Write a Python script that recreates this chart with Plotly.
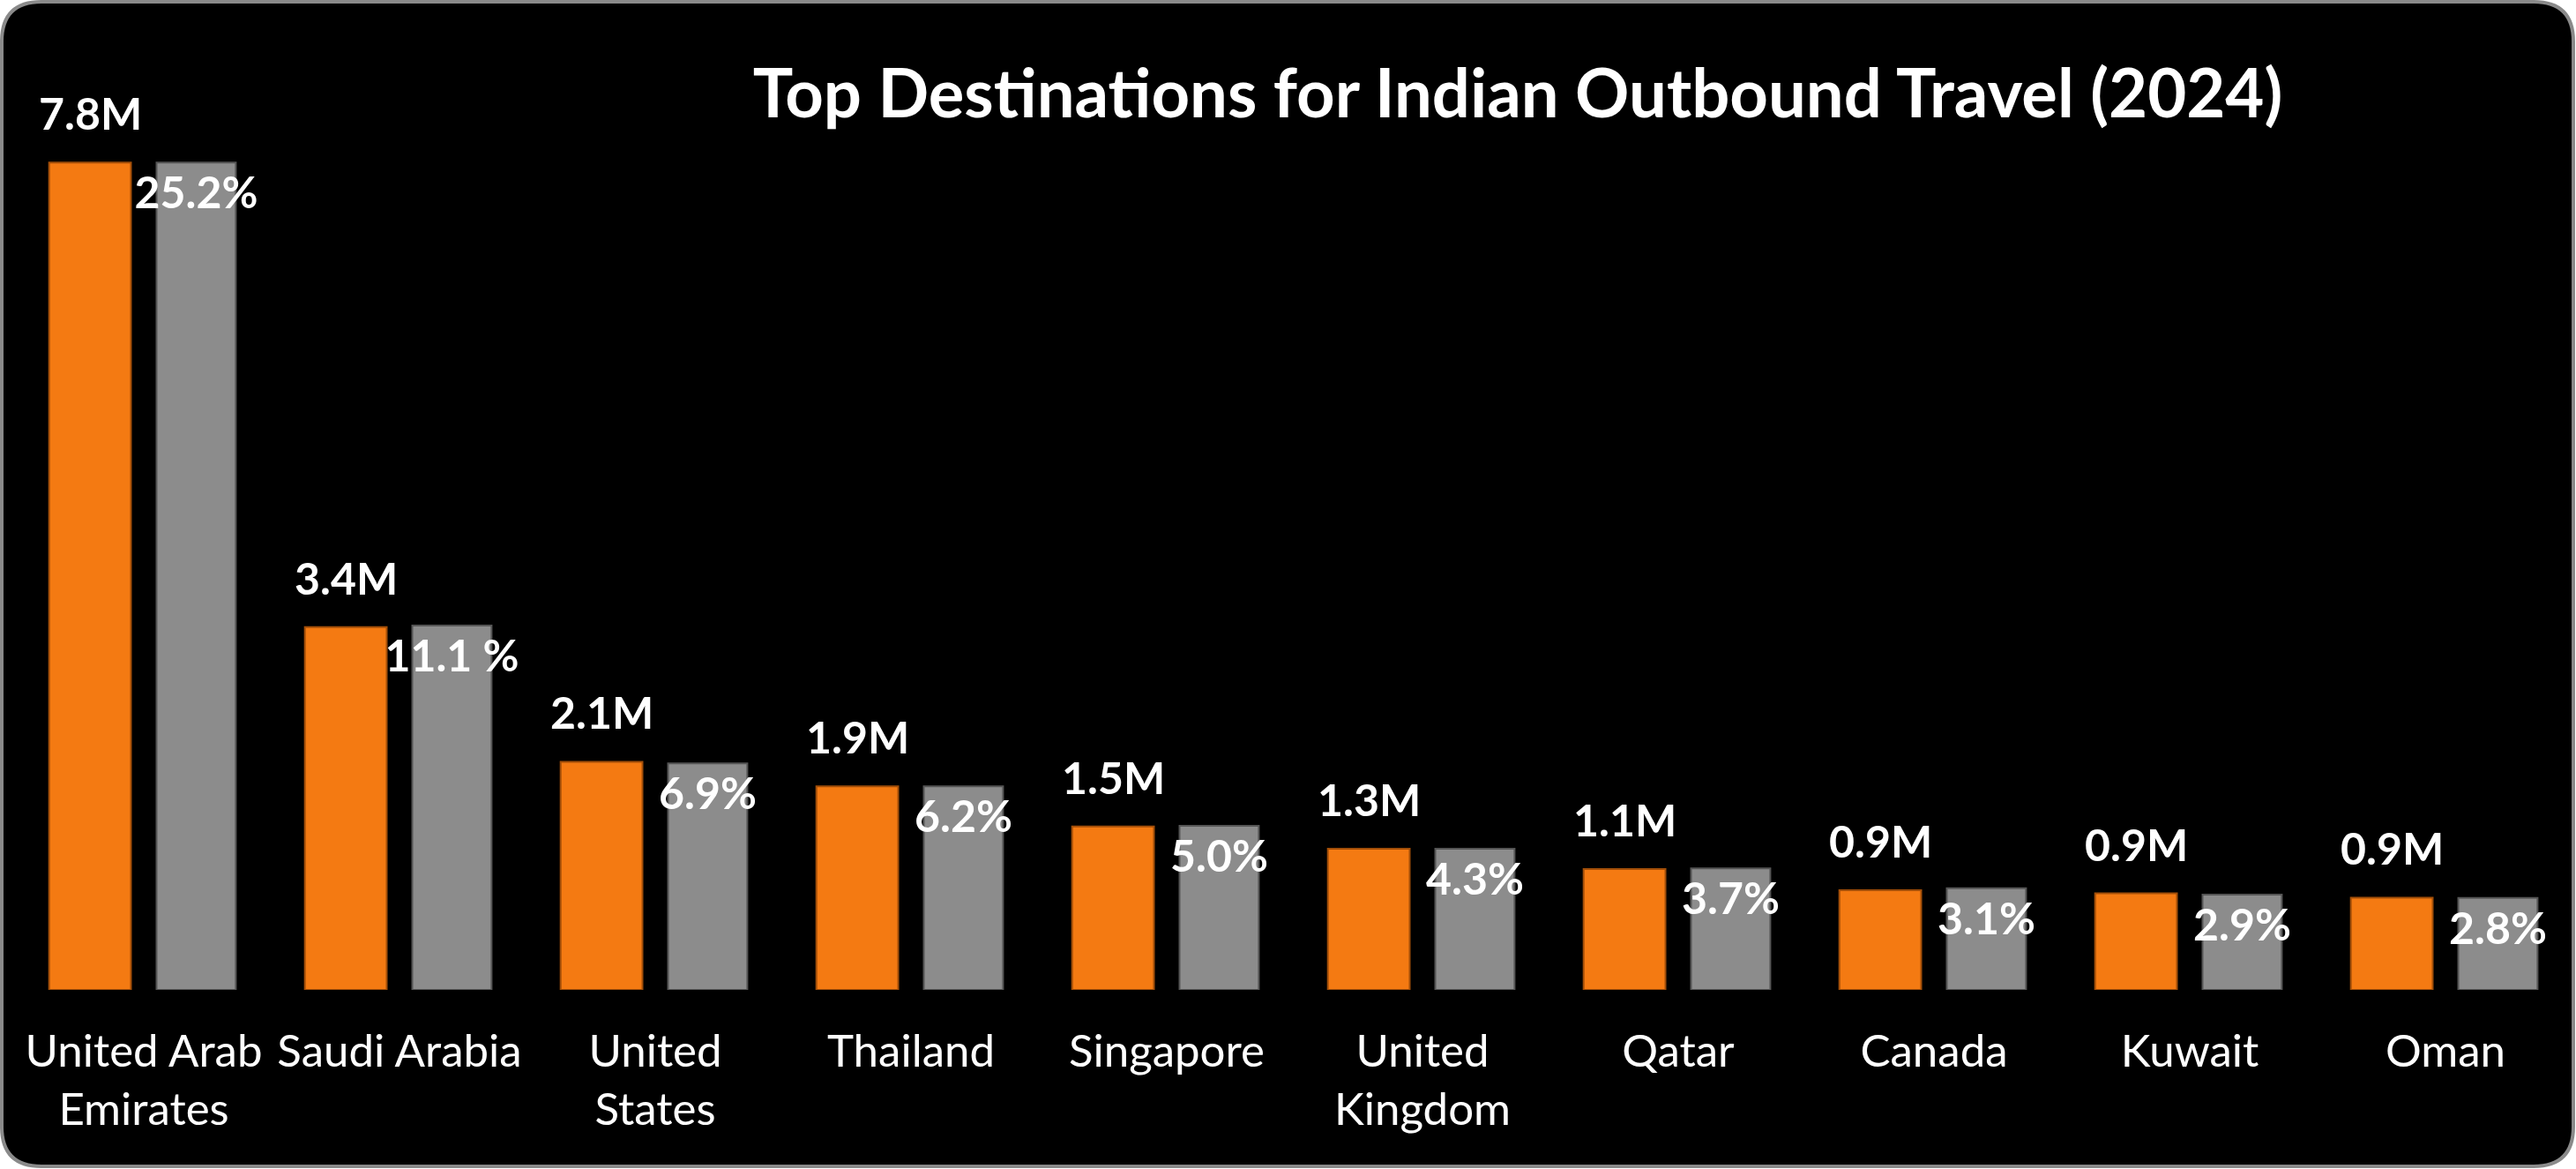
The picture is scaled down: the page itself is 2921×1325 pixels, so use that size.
import plotly.graph_objects as go

countries = ["United Arab<br>Emirates", "Saudi Arabia", "United<br>States", "Thailand", "Singapore",
             "United<br>Kingdom", "Qatar", "Canada", "Kuwait", "Oman"]
visitors_m = [7.8, 3.42, 2.15, 1.92, 1.54, 1.33, 1.14, 0.94, 0.91, 0.87]
share_pct = [25.2, 11.1, 6.9, 6.2, 5.0, 4.3, 3.7, 3.1, 2.9, 2.8]
share_labels = ["25.2%", "11.1 %", "6.9%", "6.2%", "5.0%", "4.3%", "3.7%", "3.1%", "2.9%", "2.8%"]

W, H = 2921, 1325
M_L, M_R, M_T, M_B = 18, 3, 100, 203
PLOT_W = W - M_L - M_R
PLOT_H = H - M_T - M_B
FONT = "Lato"

ORANGE_W, ORANGE_OFF = 0.32, -0.37
GREY_W, GREY_OFF = 0.31, 0.05

y_max = 8.5
y2_max = y_max * share_pct[0] / visitors_m[0]


def to_paper(px, py):
    return (px - M_L) / PLOT_W, (M_T + PLOT_H - py) / PLOT_H


def rounded_box(x0, y0, x1, y1, r):
    pts = [("M", [(x0 + r, y0)]), ("L", [(x1 - r, y0)]), ("Q", [(x1, y0), (x1, y0 + r)]),
           ("L", [(x1, y1 - r)]), ("Q", [(x1, y1), (x1 - r, y1)]), ("L", [(x0 + r, y1)]),
           ("Q", [(x0, y1), (x0, y1 - r)]), ("L", [(x0, y0 + r)]), ("Q", [(x0, y0), (x0 + r, y0)])]
    path = ""
    for cmd, coords in pts:
        path += cmd + " " + " ".join("%.5f,%.5f" % to_paper(x, y) for x, y in coords) + " "
    return path + "Z"


fig = go.Figure()

fig.add_trace(go.Bar(
    x=countries, y=visitors_m, name="Visitors",
    width=ORANGE_W, offset=ORANGE_OFF,
    marker=dict(color="#F47A12", line=dict(color="#A24E08", width=2)),
    cliponaxis=False,
))

fig.add_trace(go.Bar(
    x=countries, y=share_pct, name="Share", yaxis="y2",
    width=GREY_W, offset=GREY_OFF,
    marker=dict(color="#8C8C8C", line=dict(color="#555555", width=2)),
    text=share_labels, textposition="inside", insidetextanchor="end", textangle=0,
    constraintext="none",
    insidetextfont=dict(family=FONT, size=50, color="white", weight="bold"),
    cliponaxis=False,
))

# visitor labels sit a bit higher above the bars than plotly's outside text
slot_px = PLOT_W / len(countries)
for c, v in zip(countries, visitors_m):
    fig.add_annotation(x=c, y=v, xref="x", yref="y", text="<b>%.1fM</b>" % v,
                       showarrow=False, yanchor="bottom",
                       xshift=(ORANGE_OFF + ORANGE_W / 2) * slot_px, yshift=24,
                       font=dict(family=FONT, size=50, color="white"))

fig.update_layout(
    width=W, height=H,
    margin=dict(l=M_L, r=M_R, t=M_T, b=M_B),
    paper_bgcolor="white",
    plot_bgcolor="rgba(0,0,0,0)",
    showlegend=False,
    barmode="overlay",
    title=dict(text="<b>Top Destinations for Indian Outbound Travel (2024)</b>",
               font=dict(family=FONT, size=76, color="white"),
               xref="container", x=1721 / W, xanchor="center",
               yref="container", y=1 - 106 / H, yanchor="middle"),
    xaxis=dict(showgrid=False, showline=False, zeroline=False, ticks="",
               ticklabelstandoff=35,
               tickfont=dict(family=FONT, size=51, color="white")),
    yaxis=dict(visible=False, range=[0, y_max]),
    yaxis2=dict(visible=False, range=[0, y2_max], overlaying="y"),
    shapes=[dict(type="path", xref="paper", yref="paper", layer="below",
                 path=rounded_box(2, 2, 2918, 1322, 45),
                 fillcolor="black", line=dict(color="#8A8A8A", width=4))],
)

# page has a default 8px body margin, drop it so the chart sits at 0,0
fig.write_html("out.html", config={"displayModeBar": False},
               post_script="document.body.style.margin='0';")
